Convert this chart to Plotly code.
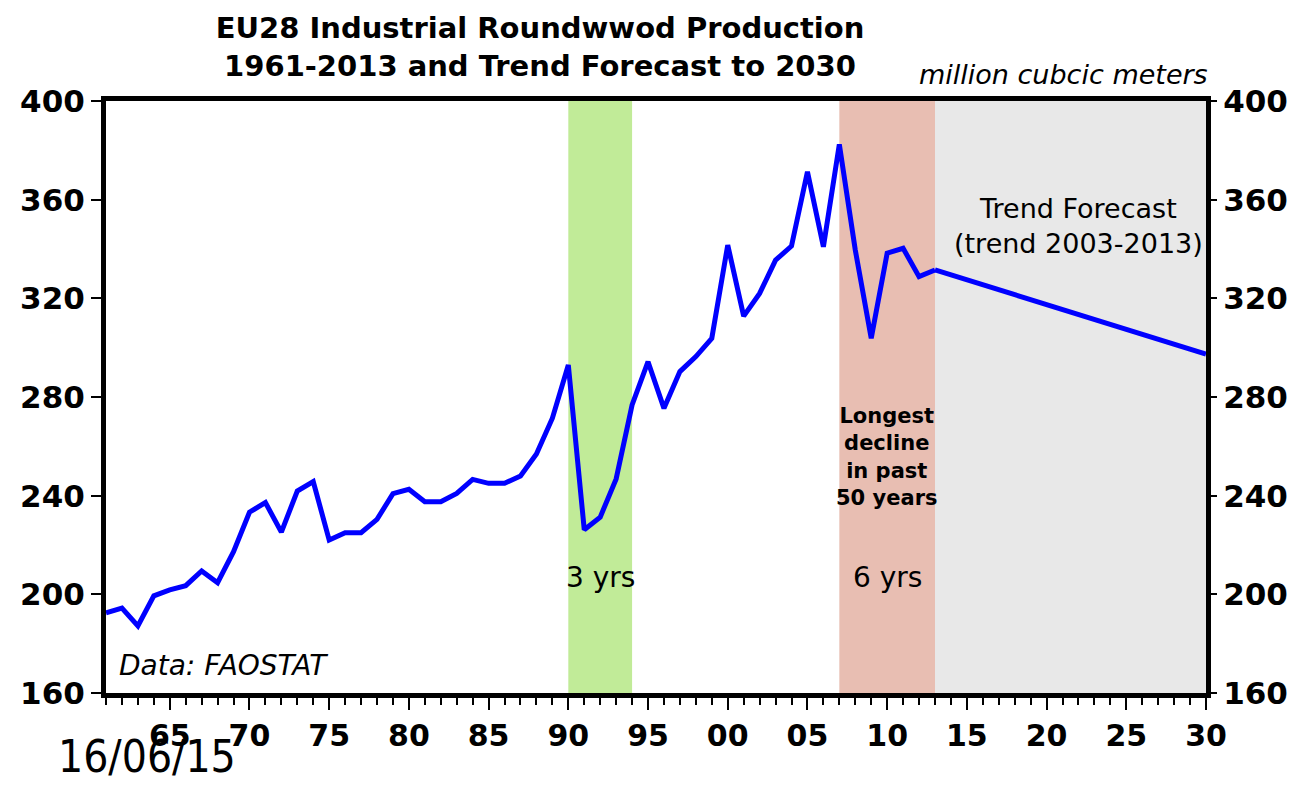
import plotly.graph_objects as go

# ── Data ─────────────────────────────────────────────────────
years = list(range(1961, 2014))
production = [
    192.5, 194.4, 187.2, 199.4, 201.8, 203.5, 209.5, 204.7, 217.3, 233.3,
    237.2, 225.2, 241.9, 245.7, 222.0, 225.0, 225.0, 230.4, 240.8, 242.6,
    237.5, 237.5, 240.9, 246.6, 245.0, 245.0, 248.0, 256.9, 271.4, 293.0,
    226.2, 231.3, 246.8, 276.8, 294.3, 275.4, 290.3, 296.4, 303.8, 341.6,
    312.8, 322.0, 335.5, 341.2, 371.3, 340.9, 382.4, 339.6, 303.8, 338.3,
    340.3, 328.8, 331.5,
]
forecast_years = [2013, 2030]
forecast_values = [331.5, 297.4]

x_tickvals = [1965, 1970, 1975, 1980, 1985, 1990, 1995, 2000, 2005, 2010, 2015, 2020, 2025, 2030]
x_ticktext = ["65", "70", "75", "80", "85", "90", "95", "00", "05", "10", "15", "20", "25", "30"]
y_tickvals = [160, 200, 240, 280, 320, 360, 400]

# shaded periods: (start, end, colour)
bands = [
    (1990, 1994, "#C1EB98"),
    (2007, 2013, "#E8BEB2"),
    (2013, 2030, "#E8E8E8"),
]

FONT = "DejaVu Sans, Verdana, sans-serif"

fig = go.Figure()

for x0, x1, col in bands:
    fig.add_shape(type="rect", xref="x", yref="paper", x0=x0, x1=x1, y0=0, y1=1,
                  fillcolor=col, line=dict(width=0), layer="below")

fig.add_trace(go.Scatter(
    x=years, y=production, mode="lines",
    line=dict(color="#0000FF", width=5),
    showlegend=False,
))
fig.add_trace(go.Scatter(
    x=forecast_years, y=forecast_values, mode="lines",
    line=dict(color="#0000FF", width=5),
    showlegend=False, yaxis="y2",
))

ytickfont = dict(family=FONT, size=31, color="black", weight="bold")
xtickfont = dict(family=FONT, size=30, color="black", weight="bold")

# page body has an 8px margin, so figure is 8px smaller than the window
fig.update_layout(
    width=1296, height=779,
    margin=dict(l=98, r=98, t=93, b=94),
    paper_bgcolor="white",
    plot_bgcolor="white",
    font=dict(family=FONT, color="black"),
    title=dict(
        text="EU28 Industrial Roundwwod Production<br>1961-2013 and Trend Forecast to 2030",
        font=dict(family=FONT, size=29, color="black", weight="bold"),
        x=0.4105, xanchor="center", xref="container",
        y=0.961, yanchor="middle", yref="container",
    ),
    xaxis=dict(
        range=[1961, 2030],
        tickvals=x_tickvals, ticktext=x_ticktext,
        ticks="outside", ticklen=12, tickwidth=1.5, tickcolor="black",
        tickfont=xtickfont,
        minor=dict(dtick=1, tick0=1961, ticks="outside", ticklen=7,
                   tickwidth=1.5, tickcolor="black"),
        showline=True, linewidth=5, linecolor="black", mirror=True,
        showgrid=False, zeroline=False,
    ),
    yaxis=dict(
        range=[160, 400], tickvals=y_tickvals,
        ticks="outside", ticklen=10, tickwidth=1.5, tickcolor="black",
        tickfont=ytickfont,
        showline=True, linewidth=5, linecolor="black", mirror=True,
        showgrid=False, zeroline=False,
    ),
    yaxis2=dict(
        range=[160, 400], tickvals=y_tickvals,
        overlaying="y", side="right", matches="y",
        ticks="outside", ticklen=10, tickwidth=1.5, tickcolor="black",
        tickfont=ytickfont,
        showline=False, showgrid=False, zeroline=False,
    ),
    annotations=[
        dict(xref="x", yref="y", x=1992, y=207, text="3 yrs", showarrow=False,
             font=dict(family=FONT, size=28, color="black")),
        dict(xref="x", yref="y", x=2010, y=207, text="6 yrs", showarrow=False,
             font=dict(family=FONT, size=28, color="black")),
        dict(xref="x", yref="y", x=2010, y=255.5,
             text="Longest<br>decline<br>in past<br>50 years", showarrow=False,
             font=dict(family=FONT, size=21, color="black", weight="bold")),
        dict(xref="x", yref="y", x=2022, y=349.5,
             text="Trend Forecast<br>(trend 2003-2013)", showarrow=False,
             font=dict(family=FONT, size=27, color="black")),
        dict(xref="paper", yref="paper", x=0.01, y=0.047, xanchor="left", yanchor="middle",
             text="<i>Data: FAOSTAT</i>", showarrow=False,
             font=dict(family=FONT, size=28, color="black")),
        dict(xref="paper", yref="paper", x=1.004, y=1.044, xanchor="right", yanchor="middle",
             text="<i>million cubcic meters</i>", showarrow=False,
             font=dict(family=FONT, size=27, color="black")),
        dict(xref="paper", yref="paper", x=-0.0455, y=-0.108, xanchor="left", yanchor="middle",
             text="16/06/15", showarrow=False,
             font=dict(family="Liberation Sans Narrow, DejaVu Sans Condensed, sans-serif",
                       size=44, color="black")),
    ],
)

fig.write_html("out.html")
